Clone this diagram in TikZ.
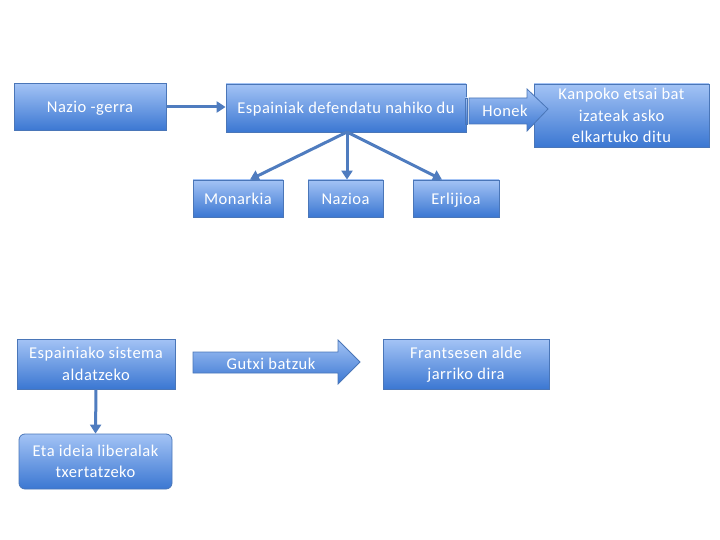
\documentclass[tikz,border=0pt]{standalone}
\usepackage{fontspec}
\setmainfont{Carlito}[LetterSpace=3]
\usetikzlibrary{arrows.meta}
\definecolor{boxtop}{HTML}{A3C3F5}
\definecolor{boxbot}{HTML}{3B77D2}
\definecolor{boxline}{HTML}{4A76B8}
\definecolor{conn}{HTML}{4F7CBF}
\tikzset{
  bluebox/.style={draw=boxline, line width=0.8pt, top color=boxtop, bottom color=boxbot,
    text=white, align=center, inner sep=2pt, font=\fontsize{16.5}{21.5}\selectfont},
  oneline/.style={bluebox, text height=15pt, text depth=3pt},
  conline/.style={draw=conn, line width=3pt, -{Triangle[length=9pt,width=11pt]}},
  bigarrow/.style={draw=boxline, line width=0.8pt, top color=boxtop, bottom color=boxbot},
  lbl/.style={text=white, font=\fontsize{16.5}{21.5}\selectfont, align=center, text height=15pt, text depth=3pt}
}
\begin{document}
\begin{tikzpicture}[x=1pt,y=1pt]
\useasboundingbox (0,0) rectangle (720,-540);
\node[oneline, minimum width=152pt, minimum height=47pt] (nazio) at (90,-107) {Nazio -gerra};
\node[oneline, minimum width=240pt, minimum height=48pt] (esp) at (346,-108) {Espainiak defendatu nahiko du};
\node[bluebox, minimum width=175pt, minimum height=63pt] (kanp) at (621.5,-115.5) {Kanpoko etsai bat\\izateak asko\\elkartuko ditu};
\node[oneline, minimum width=90pt, minimum height=37pt] (mon) at (238,-198.5) {Monarkia};
\node[oneline, minimum width=75pt, minimum height=37pt] (naz) at (345.5,-198.5) {Nazioa};
\node[oneline, minimum width=86pt, minimum height=37pt] (erl) at (456,-198.5) {Erlijioa};
\node[bluebox, minimum width=158pt, minimum height=50pt] (sis) at (96,-364) {Espainiako sistema\\aldatzeko};
\node[bluebox, rounded corners=6pt, minimum width=153pt, minimum height=55pt] (eta) at (95.5,-461.5) {Eta ideia liberalak\\txertatzeko};
\node[bluebox, minimum width=166pt, minimum height=50pt] (fran) at (466,-364.5) {Frantsesen alde\\jarriko dira};

% Honek arrow
\path[bigarrow] (465,-98) rectangle (467,-124);
\path[bigarrow] (469,-98) -- (527,-98) -- (527,-89) -- (548,-109) -- (527,-131) -- (527,-124) -- (469,-124) -- cycle;
\node[lbl] (honek) at (505,-111) {Honek};

% Gutxi batzuk arrow
\path[bigarrow] (193,-352) -- (338,-352) -- (338,-340) -- (360,-362) -- (338,-384) -- (338,-373) -- (193,-373) -- cycle;
\node[lbl] (gutxi) at (271,-363) {Gutxi batzuk};

% connectors
\coordinate (hub) at (347,-132);
\draw[conline] (nazio.east) -- (nazio.east -| esp.west);
\draw[conline] (hub) -- (mon.north east -| 250,0) ;
\draw[conline] (hub) -- (naz.north -| hub);
\draw[conline] (hub) -- (erl.north -| 442,0);
\draw[conline] (sis.south) -- (eta.north);
\end{tikzpicture}
\end{document}
